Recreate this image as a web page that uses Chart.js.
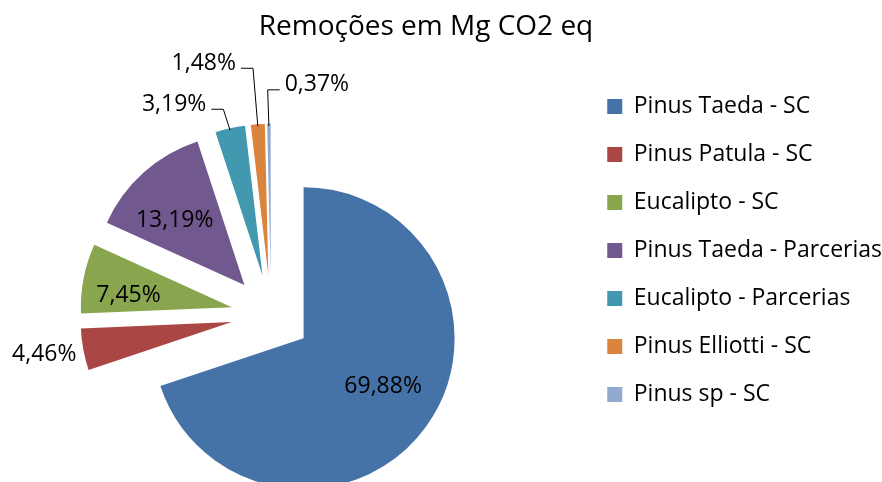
<!DOCTYPE html>
<html lang="pt">
<head>
<meta charset="UTF-8">
<title>Remoções em Mg CO2 eq</title>
<style>
  html, body { margin: 0; padding: 0; background: #fff; overflow: hidden; }
  /* a pizza sai um pouco pela esquerda e por baixo, como no original */
  #wrap { position: absolute; left: -40px; top: 0; width: 932px; height: 491px; }
</style>
</head>
<body>
<div id="wrap"><canvas id="grafico"></canvas></div>
<script src="https://cdn.jsdelivr.net/npm/chart.js"></script>
<script>
const titulo = 'Remoções em Mg CO2 eq';
const categorias = ['Pinus Taeda - SC', 'Pinus Patula - SC', 'Eucalipto - SC', 'Pinus Taeda - Parcerias', 'Eucalipto - Parcerias', 'Pinus Elliotti - SC', 'Pinus sp - SC'];
const percentuais = [69.88, 4.46, 7.45, 13.19, 3.19, 1.48, 0.37];
const cores = ['#4572A7', '#AA4643', '#89A54E', '#71588F', '#4198AF', '#DB843D', '#93A9CF'];

// onde vai cada rótulo: dentro ([fração do raio, giro em graus]) ou fora (deslocamento a partir da borda)
const rotuloDentro = [[0.61, -5.5], null, [0.69, -3.5], [0.64, -4.3], null, null, null];
const rotuloFora = [null, [-39, 3], null, null, [-56, -26], [-54, -63], [48, -41]];
const comLinha = [false, false, false, false, true, true, true];

// todas as fatias destacadas pela mesma distância (px)
const afastamento = 40;

function meioDaFatia(arc) {
    const p = arc.getProps(['x', 'y', 'startAngle', 'endAngle', 'outerRadius'], true);
    const meio = (p.startAngle + p.endAngle) / 2;
    return {
        meio, r: p.outerRadius,
        cx: p.x + Math.cos(meio) * afastamento,
        cy: p.y + Math.sin(meio) * afastamento
    };
}

// desenha cada fatia deslocada para fora do centro (pizza explodida)
const destacar = {
    id: 'destacar',
    beforeDatasetDraw(chart, args) {
        const ctx = chart.ctx;
        args.meta.data.forEach(arc => {
            const f = meioDaFatia(arc);
            ctx.save();
            ctx.translate(Math.cos(f.meio) * afastamento, Math.sin(f.meio) * afastamento);
            arc.draw(ctx);
            ctx.restore();
        });
        return false;
    }
};

const rotulos = {
    id: 'rotulos',
    afterDatasetsDraw(chart) {
        const ctx = chart.ctx;
        const meta = chart.getDatasetMeta(0);
        ctx.save();
        ctx.font = '23px "Open Sans"';
        ctx.fillStyle = '#000';
        ctx.strokeStyle = '#000';
        ctx.lineWidth = 1;
        ctx.textBaseline = 'middle';
        ctx.textAlign = 'center';
        meta.data.forEach((arc, i) => {
            const f = meioDaFatia(arc);
            const texto = percentuais[i].toFixed(2).replace('.', ',') + '%';
            if (rotuloDentro[i] !== null) {
                const [frac, giro] = rotuloDentro[i];
                const ang = f.meio + giro * Math.PI / 180;
                const k = frac * f.r;
                ctx.fillText(texto, f.cx + Math.cos(ang) * k, f.cy + Math.sin(ang) * k + 2);
                return;
            }
            const ax = f.cx + Math.cos(f.meio) * f.r;
            const ay = f.cy + Math.sin(f.meio) * f.r;
            const [dx, dy] = rotuloFora[i];
            const lx = ax + dx, ly = ay + dy;
            ctx.fillText(texto, lx, ly + 2);
            if (comLinha[i]) {
                const w = ctx.measureText(texto).width;
                const lado = dx < 0 ? 1 : -1;
                const bordaX = lx + lado * (w / 2 + 5);
                const linhaY = ly + 7;
                ctx.beginPath();
                ctx.moveTo(bordaX, linhaY);
                ctx.lineTo(bordaX + lado * 12, linhaY);
                ctx.lineTo(ax, ay + 2);
                ctx.stroke();
            }
        });
        ctx.restore();
    }
};

new Chart(document.getElementById('grafico'), {
    type: 'pie',
    data: {
        labels: categorias,
        datasets: [{
            data: percentuais,
            backgroundColor: cores,
            borderWidth: 0
        }]
    },
    options: {
        responsive: true,
        maintainAspectRatio: false,
        animation: false,
        radius: 151,
        layout: { padding: { left: 0, right: 0, top: 10, bottom: 0 } },
        plugins: {
            title: {
                display: true,
                text: titulo,
                color: '#000',
                font: { family: 'Open Sans', size: 28, weight: 'normal' },
                padding: { top: 0, bottom: 95 }
            },
            legend: {
                position: 'right',
                labels: {
                    color: '#000',
                    font: { family: 'Open Sans', size: 23 },
                    boxWidth: 15,
                    boxHeight: 15,
                    padding: 25
                }
            },
            tooltip: { enabled: false }
        }
    },
    plugins: [destacar, rotulos]
});
</script>
</body>
</html>
